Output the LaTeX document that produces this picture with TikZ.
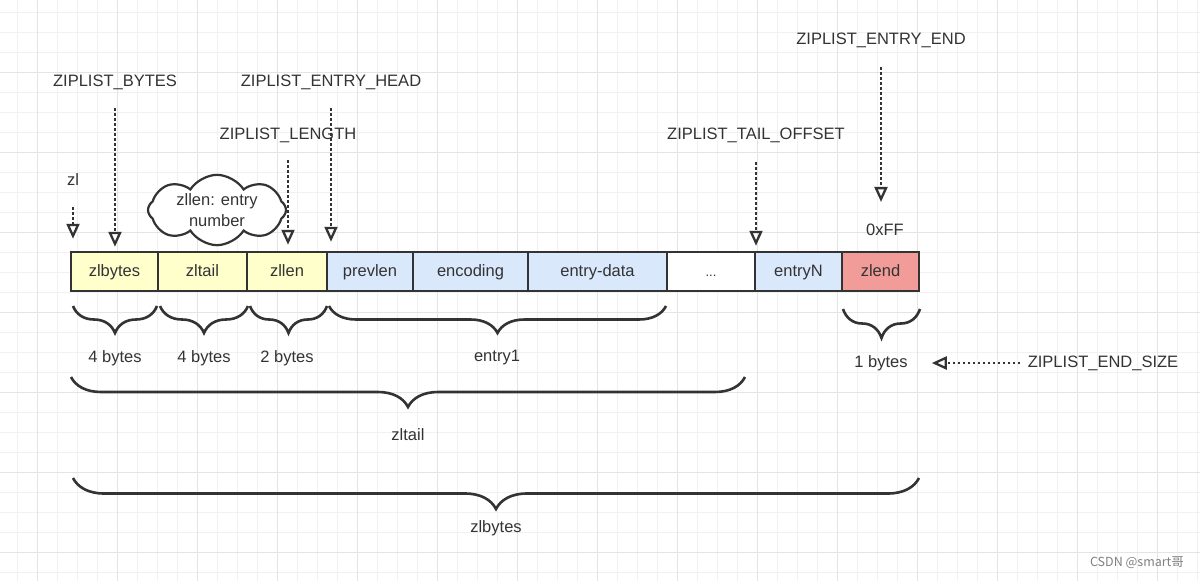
\documentclass[tikz,border=0pt]{standalone}
\usepackage{fontspec}
\setmainfont{Liberation Sans}
\newfontfamily\cjkfont{Noto Sans CJK SC}
\usetikzlibrary{arrows.meta,decorations.pathreplacing,shapes.symbols}
\definecolor{ink}{HTML}{333333}
\definecolor{yelfill}{HTML}{FFFFCC}
\definecolor{bluefill}{HTML}{DAE8FC}
\definecolor{redfill}{HTML}{F19C99}
\definecolor{gridminor}{HTML}{F1F1F1}
\definecolor{gridmajor}{HTML}{E4E4E4}
\begin{document}
\begin{tikzpicture}[x=1pt,y=-1pt, font=\fontsize{16.5}{21}\selectfont, text=ink,
 cell/.style={draw=ink, line width=2.5pt, minimum height=39pt, inner sep=0pt, anchor=center, text height=12pt, text depth=2pt},
 lbl/.style={inner sep=0pt, text=ink},
 darr/.style={draw=ink, line width=2.8pt, dash pattern=on 2.5pt off 2.5pt, line cap=butt, -{Triangle[open,length=15pt,width=13pt,line width=2.3pt]}},
 brc/.style={draw=ink, line width=2.6pt, decorate, decoration={brace, amplitude=#1}},
]
\useasboundingbox (0,0) rectangle (1200,581);
\fill[white] (0,0) rectangle (1200,581);
% grid
\foreach \x in {17,37,...,1197} \draw[gridminor, line width=1pt] (\x,0) -- (\x,581);
\foreach \y in {12,32,...,572} \draw[gridminor, line width=1pt] (0,\y) -- (1200,\y);
\foreach \x in {37,117,...,1197} \draw[gridmajor, line width=1pt] (\x,0) -- (\x,581);
\foreach \y in {72,152,...,552} \draw[gridmajor, line width=1pt] (0,\y) -- (1200,\y);

% cells
\node[cell, fill=yelfill, minimum width=87pt] (zb) at (114.5,271.5) {zlbytes};
\node[cell, fill=yelfill, minimum width=89pt] (zt) at (202.5,271.5) {zltail};
\node[cell, fill=yelfill, minimum width=80pt] (zn) at (287,271.5) {zllen};
\node[cell, fill=bluefill, minimum width=86pt] (pl) at (370,271.5) {prevlen};
\node[cell, fill=bluefill, minimum width=115pt] (enc) at (470.5,271.5) {encoding};
\node[cell, fill=bluefill, minimum width=139pt] (ed) at (597.5,271.5) {entry-data};
\node[cell, fill=white, minimum width=88pt] (dots) at (711,271.5) {\fontsize{13}{15}\selectfont ...};
\node[cell, fill=bluefill, minimum width=87pt] (en) at (798.5,271.5) {entryN};
\node[cell, fill=redfill, minimum width=77pt] (ze) at (880.5,271.5) {zlend};

% labels
\node[lbl] (zl) at (73,180) {zl};
\node[lbl] (lbytes) at (115,82) {ZIPLIST\_BYTES};
\node[lbl] (lhead) at (331,82) {ZIPLIST\_ENTRY\_HEAD};
\node[lbl] (llen) at (288,135) {ZIPLIST\_LENGTH};
\node[lbl] (ltail) at (756,135) {ZIPLIST\_TAIL\_OFFSET};
\node[lbl] (lend) at (881,40) {ZIPLIST\_ENTRY\_END};
\node[lbl] (ff) at (885,230) {0xFF};
\node[lbl] (lsize) at (1103,363) {ZIPLIST\_END\_SIZE};

% cloud
\node[cloud, draw=ink, line width=2.2pt, cloud puffs=8, cloud puff arc=115, aspect=2.3,
      minimum width=138pt, minimum height=58pt, align=center, inner sep=0pt, fill=white] (cl) at (217,210) {zllen: entry\\number};

% arrows
\coordinate (s0) at (73,207);
\coordinate (s1) at (115,108);
\coordinate (s2) at (331,108);
\coordinate (s3) at (288,160);
\coordinate (s4) at (756,162);
\coordinate (s5) at (881,67);
\coordinate (s6) at (1020,363);
\draw[darr, shorten >=12pt] (s0) -- (s0 |- zb.north);
\draw[darr, shorten >=4pt] (s1) -- (s1 |- zb.north);
\draw[darr, shorten >=9pt] (s2) -- (s2 |- pl.north);
\draw[darr, shorten >=6pt] (s3) -- (s3 |- zn.north);
\draw[darr, shorten >=5pt] (s4) -- (s4 |- en.north);
\draw[darr, shorten >=22pt] (s5) -- (s5 |- ff.north);

% braces
\draw[brc=27] (157,306) -- (73,306);
\draw[brc=27] (248,306) -- (160,306);
\draw[brc=27] (327,306) -- (250,306);
\draw[brc=27] (666,306) -- (329,306);
\draw[brc=29] (920,309) -- (843,309);
\draw[brc=30] (745,377) -- (71,377);
\draw[brc=31] (919,478) -- (73,478);

\node[lbl] (b4a) at (115,358) {4 bytes};
\node[lbl] (b4b) at (204,358) {4 bytes};
\node[lbl] (b2) at (287,358) {2 bytes};
\node[lbl] (e1) at (497,358) {entry1};
\node[lbl] (b1) at (881,363) {1 bytes};
\node[lbl] (ztl) at (408,435) {zltail};
\node[lbl] (zbl) at (496,528) {zlbytes};

\draw[darr, shorten >=24pt] (s6) -- (b1.east);

% watermark
\node[lbl, text=black!50, font=\cjkfont\fontsize{12.5}{14}\selectfont] (wm) at (1137,563) {CSDN @smart哥};
\end{tikzpicture}
\end{document}
